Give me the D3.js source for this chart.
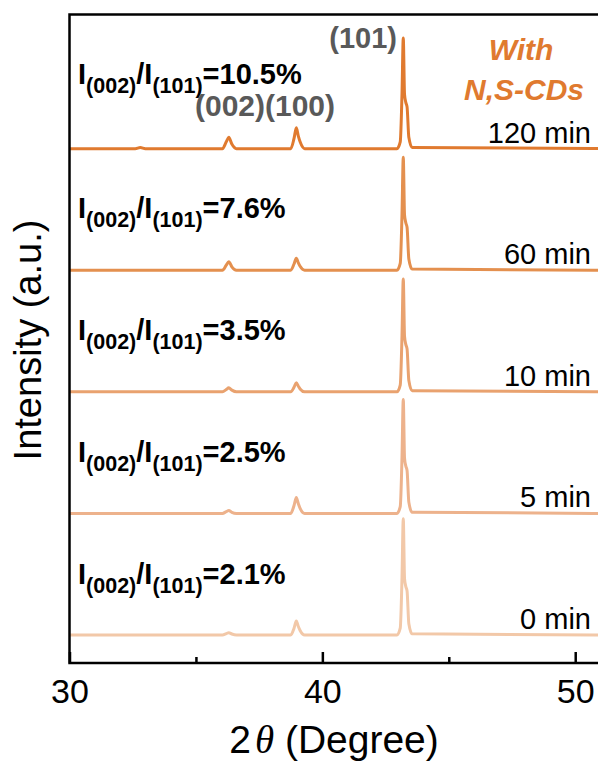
<!DOCTYPE html>
<html>
<head>
<meta charset="utf-8">
<script src="https://cdn.jsdelivr.net/npm/d3@7"></script>
<style>
  html, body { margin: 0; padding: 0; background: #fff; }
  svg { display: block; font-family: "Liberation Sans", Arial, sans-serif; }
</style>
</head>
<body>
<svg id="chart" width="598" height="762"></svg>
<script>
// ---------------- data ----------------
const twoTheta = [30, 32.6, 32.8, 33.0, 36.05, 36.2, 36.3, 36.42, 36.6, 38.75, 38.88, 38.97, 39.05, 39.12, 39.3, 42.95, 43.08, 43.15, 43.2, 43.25, 43.3, 43.35, 43.42, 43.55, 51];
const seriesNames = ["0 min", "5 min", "10 min", "60 min", "120 min"];
const ratios = ["2.1%", "2.5%", "3.5%", "7.6%", "10.5%"];
const int0   = [0, 0, 0, 0, 0, 1.2, 2.1, 0.9, 0, 0, 6, 12.5, 7.5, 4, 0, 0, 6, 51, 103, 50, 43, 39, 10, 1, 0];
const int5   = [0, 0, 0, 0, 0, 1.5, 2.5, 1, 0, 0, 7, 14, 8.5, 4.5, 0, 0, 6, 50, 101, 49, 42, 38, 10, 1, 0];
const int10  = [0, 0, 0, 0, 0, 2, 3.5, 1.5, 0, 0, 4, 8, 5, 2.5, 0, 0, 6, 50, 100, 49, 42, 38, 10, 1, 0];
const int60  = [0, 0, 0, 0, 0, 4.5, 7.6, 3, 0, 0, 5.5, 10.6, 6.5, 3.5, 0, 0, 6, 50, 100, 49, 42, 38, 10, 1, 0];
const int120 = [0, 0, 1, 0, 0, 6, 10, 4, 0, 0, 9, 18.5, 11, 6, 0, 0, 6, 49, 98, 48, 41, 37, 10, 1, 0];
const offsets = [0, 107.7, 215.4, 323.1, 430.8];
const xTicks = [30, 40, 50];
const xMinorTicks = [35, 45];
const colors = ["#F2C8A8", "#EDB28C", "#E9A26F", "#E4904F", "#E07A2F"];

const intensities = [int0, int5, int10, int60, int120];

// ---------------- layout ----------------
const svg = d3.select("#chart");
const mLeft = 69.5, mRight = 600.5, mTop = 14.5, mBottom = 663;

const x = d3.scaleLinear().domain([30, 51]).range([mLeft, mRight]);
const y = d3.scaleLinear().domain([-24.8, 549.6]).range([mBottom, mTop]);

svg.append("defs").append("clipPath").attr("id", "clip")
  .append("rect").attr("x", mLeft).attr("y", mTop).attr("width", mRight - mLeft).attr("height", mBottom - mTop);

const line = d3.line().x(d => x(d[0])).y(d => y(d[1])).curve(d3.curveMonotoneX);

const traces = svg.append("g").attr("clip-path", "url(#clip)");
intensities.forEach((vals, i) => {
  const pts = twoTheta.map((t, j) => [t, vals[j] + offsets[i]]);
  traces.append("path")
    .attr("d", line(pts))
    .attr("fill", "none")
    .attr("stroke", colors[i])
    .attr("stroke-width", 3)
    .attr("stroke-linejoin", "round");
});

// frame
svg.append("rect")
  .attr("x", mLeft).attr("y", mTop).attr("width", mRight - mLeft).attr("height", mBottom - mTop)
  .attr("fill", "none").attr("stroke", "#000").attr("stroke-width", 2.5);

// x axis (ticks inward)
const xAxis = d3.axisBottom(x).tickValues(xTicks).tickSize(-11).tickPadding(0).tickFormat(d3.format("d"));
const gx = svg.append("g").attr("transform", `translate(0,${mBottom})`).call(xAxis);
gx.select(".domain").remove();
gx.selectAll(".tick line").attr("stroke", "#000").attr("stroke-width", 2.5);
gx.selectAll(".tick text")
  .attr("y", 40).attr("dy", null)
  .attr("fill", "#000")
  .style("font-size", "34px")
  .style("font-family", '"Liberation Sans", Arial, sans-serif');

const xMinor = d3.axisBottom(x).tickValues(xMinorTicks).tickSize(-6).tickFormat("");
const gxm = svg.append("g").attr("transform", `translate(0,${mBottom})`).call(xMinor);
gxm.select(".domain").remove();
gxm.selectAll(".tick line").attr("stroke", "#000").attr("stroke-width", 2.5);

// axis titles
const xt = svg.append("text")
  .attr("x", 334).attr("y", 753)
  .attr("text-anchor", "middle")
  .style("font-size", "39px")
  .attr("fill", "#000");
xt.append("tspan").text("2");
xt.append("tspan").text("θ").style("font-style", "italic")
  .style("font-family", '"Liberation Serif", "Times New Roman", serif').attr("dx", 4);
xt.append("tspan").text(" (Degree)");

svg.append("text")
  .attr("transform", "translate(41,340) rotate(-90)")
  .attr("text-anchor", "middle")
  .style("font-size", "38px")
  .attr("fill", "#000")
  .text("Intensity (a.u.)");

// ratio labels
const ratioBase = [84, 218, 340, 462, 584].reverse();
ratios.forEach((r, i) => {
  const t = svg.append("text")
    .attr("x", 78).attr("y", ratioBase[i])
    .style("font-weight", "bold").style("font-size", "29px").attr("fill", "#000");
  t.append("tspan").text("I");
  t.append("tspan").text("(002)").style("font-size", "21.5px").attr("dy", 9);
  t.append("tspan").text("/I").attr("dy", -9);
  t.append("tspan").text("(101)").style("font-size", "21.5px").attr("dy", 9);
  t.append("tspan").text("=" + r).attr("dy", -9);
});

// series labels
seriesNames.forEach((s, i) => {
  svg.append("text")
    .attr("x", 591).attr("y", y(offsets[i]) - 6)
    .attr("text-anchor", "end")
    .style("font-size", "29px")
    .attr("fill", "#000")
    .text(s);
});

// peak labels
svg.append("text").attr("x", 397).attr("y", 48).attr("text-anchor", "end")
  .style("font-weight", "bold").style("font-size", "29px").attr("fill", "#595959").text("(101)");
svg.append("text").attr("x", 265).attr("y", 116).attr("text-anchor", "middle")
  .style("font-weight", "bold").style("font-size", "30px").attr("fill", "#595959").text("(002)(100)");

// sample label
svg.append("text").attr("x", 521).attr("y", 60).attr("text-anchor", "middle")
  .style("font-weight", "bold").style("font-style", "italic").style("font-size", "30px")
  .attr("fill", "#E07A2F").text("With");
svg.append("text").attr("x", 524).attr("y", 100).attr("text-anchor", "middle")
  .style("font-weight", "bold").style("font-style", "italic").style("font-size", "30px")
  .attr("fill", "#E07A2F").text("N,S-CDs");
</script>
</body>
</html>
